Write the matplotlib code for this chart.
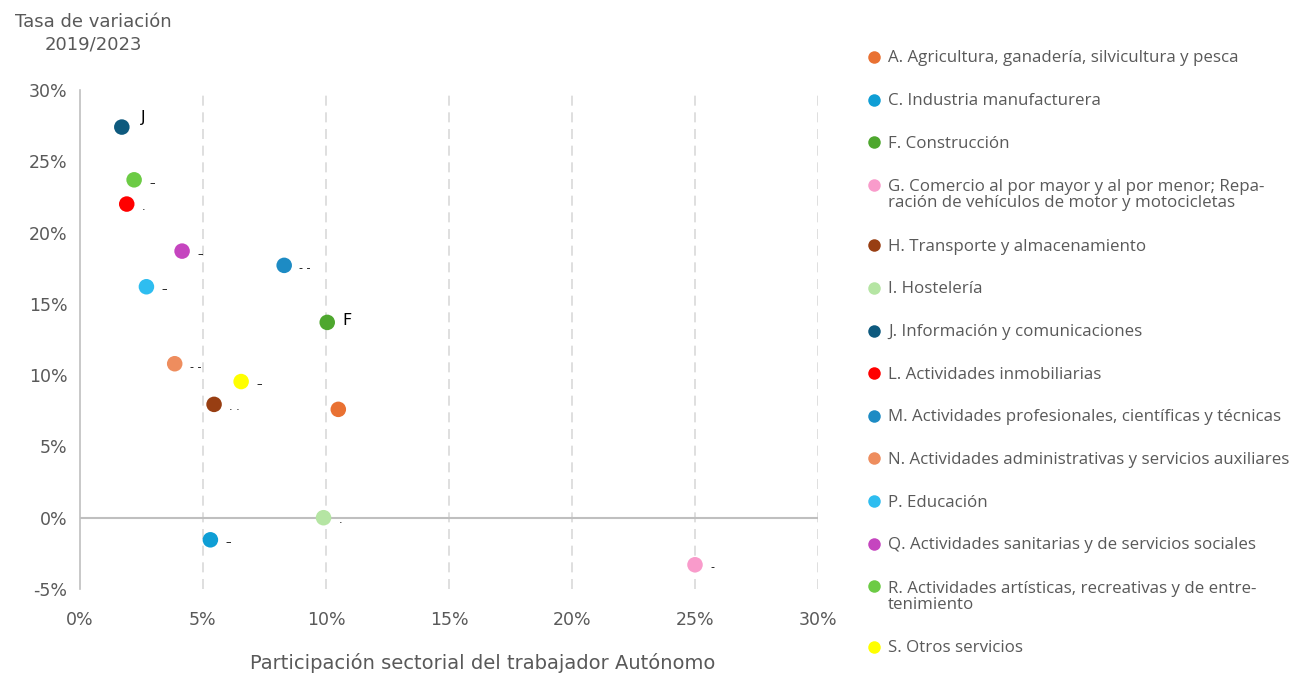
import matplotlib
matplotlib.use("Agg")
import matplotlib.pyplot as plt
from matplotlib.lines import Line2D
from matplotlib.ticker import FuncFormatter

# ---- data ----
categories = [
    "A. Agricultura, ganadería, silvicultura y pesca",
    "C. Industria manufacturera",
    "F. Construcción",
    "G. Comercio al por mayor y al por menor; Repa-\nración de vehículos de motor y motocicletas",
    "H. Transporte y almacenamiento",
    "I. Hostelería",
    "J. Información y comunicaciones",
    "L. Actividades inmobiliarias",
    "M. Actividades profesionales, científicas y técnicas",
    "N. Actividades administrativas y servicios auxiliares",
    "P. Educación",
    "Q. Actividades sanitarias y de servicios sociales",
    "R. Actividades artísticas, recreativas y de entre-\ntenimiento",
    "S. Otros servicios",
]
participacion = [10.5, 5.3, 10.05, 25.0, 5.45, 9.9, 1.7, 1.9, 8.3, 3.85, 2.7, 4.15, 2.2, 6.55]
variacion = [7.6, -1.55, 13.7, -3.3, 7.95, 0.0, 27.4, 22.0, 17.7, 10.8, 16.2, 18.7, 23.7, 9.55]
point_labels = ["", "–", "F", "-", ". .", ".", "J", ".", "- -", "- -", "–", "–", "–", "–"]
colors = ["#E97132", "#0F9ED5", "#4EA72E", "#F99BCB", "#983E12", "#B5E5A3",
          "#0E5A7E", "#FF0000", "#1D8BC4", "#EE8D5E", "#2EBDF0", "#C545BF",
          "#6CCB45", "#FFFF00"]
x_ticks = [0, 5, 10, 15, 20, 25, 30]
y_ticks = [-5, 0, 5, 10, 15, 20, 25, 30]

W, H = 1290, 675
fig = plt.figure(figsize=(W / 100, H / 100), dpi=100)
fig.patch.set_facecolor("white")

axis_font = "DejaVu Sans"
leg_font = "Open Sans"
gray = "#595959"

ax = fig.add_axes([80 / W, 1 - 589 / H, (818 - 80) / W, (589 - 90) / H])
ax.set_xlim(0, 30)
ax.set_ylim(-5, 30)

for s in ["top", "right", "bottom"]:
    ax.spines[s].set_visible(False)
ax.spines["left"].set_color("#BFBFBF")
ax.spines["left"].set_linewidth(1.2)

ax.set_xticks(x_ticks)
ax.set_yticks(y_ticks)
ax.xaxis.set_major_formatter(FuncFormatter(lambda v, p: f"{v:.0f}%"))
ax.yaxis.set_major_formatter(FuncFormatter(lambda v, p: f"{v:.0f}%"))
ax.tick_params(axis="both", length=0, colors=gray, labelsize=12.5)
ax.tick_params(axis="x", pad=16)
ax.tick_params(axis="y", pad=9)
for lab in ax.get_xticklabels() + ax.get_yticklabels():
    lab.set_fontfamily(axis_font)

for xv in x_ticks[1:]:
    ax.axvline(xv, color="#D9D9D9", lw=1.2, ls=(0, (6, 4)), zorder=0)
ax.axhline(0, color="#BFBFBF", lw=1.5, zorder=1)

ax.scatter(participacion, variacion, s=125, c=colors, edgecolors="none", zorder=3)
big_offsets = {"J": (14, 7), "F": (11, 1.5)}
for xv, yv, t in zip(participacion, variacion, point_labels):
    if not t:
        continue
    big = t in big_offsets
    ax.annotate(t, (xv, yv), xytext=big_offsets.get(t, (11, -2)),
                textcoords="offset points", fontsize=11.5 if big else 8,
                color="black", fontfamily=axis_font, va="center", ha="left", zorder=4)

fig.text(483 / W, 1 - 663 / H, "Participación sectorial del trabajador Autónomo",
         ha="center", va="center", fontsize=14, color=gray, fontfamily=axis_font)
fig.text(93 / W, 1 - 33 / H, "Tasa de variación\n2019/2023", ha="center", va="center",
         fontsize=13, color=gray, fontfamily=axis_font, linespacing=1.3)

# ---- legend (manual layout) ----
y = 57.0
for cat, col in zip(categories, colors):
    extra = cat.count("\n")
    fig.add_artist(Line2D([874 / W], [1 - y / H], marker="o", markersize=9,
                          markerfacecolor=col, markeredgecolor="none",
                          transform=fig.transFigure))
    fig.text(888 / W, 1 - (y + 5.5 + 17.0 * extra) / H, cat, ha="left", va="baseline",
             fontsize=12.2, color=gray, fontfamily=leg_font, linespacing=1.0)
    y += 42.6 + 18.0 * extra

fig.savefig("out.png", dpi=100, facecolor="white")
